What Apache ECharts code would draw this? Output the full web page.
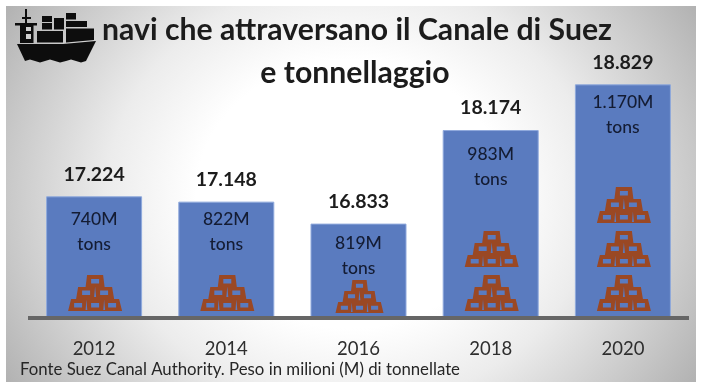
<!DOCTYPE html>
<html>
<head>
<meta charset="utf-8">
<style>html,body{margin:0;padding:0;background:#fff}#c{width:705px;height:390px}</style>
<script src="https://cdn.jsdelivr.net/npm/echarts@6/dist/echarts.min.js"></script>
</head>
<body>
<div id="c"></div>
<script>
const years = ['2012', '2014', '2016', '2018', '2020'];
const ships = [17224, 17148, 16833, 18174, 18829];
const tonnage = [740, 822, 819, 983, 1170];
const goldStacks = [1, 1, 1, 2, 3];
const titleLine1 = 'navi che attraversano il Canale di Suez';
const titleLine2 = 'e tonnellaggio';
const sourceNote = 'Fonte Suez Canal Authority. Peso in milioni (M) di tonnellate';

const FONT = 'Lato, "Open Sans", sans-serif';
const fmt = n => String(n).replace(/\B(?=(\d{3})+$)/g, '.');

const goldPath = 'M19 0H35L36.5 12H44L46 24H51L54 36H0L3 24H8L10 12H17.5Z' +
  'M23 4V8.5H31V4Z' +
  'M14 15.5V20H22V15.5Z M32 15.5V20H40V15.5Z' +
  'M6 28V32.5H14V28Z M23 28V32.5H31V28Z M40 28V32.5H48V28Z' +
  'M27 11.5L26 22H28Z M18.3 24.5L17.5 35H19.2Z M36 24.5L35.2 35H37Z';

const shipPolys = [
  [[17,44],[63,44],[96,41],[86,61],[81,62.5],[76,61],[71,59.5],[66,61],[60,62.5],[55,61],[50,59.5],[45,61],[40,62.5],[35,61],[30,59.5],[25,61]],
  [[25,9],[27,9],[27,17],[31,17],[31,19],[27,19],[27,23],[37,23],[37,25.5],[33.5,25.5],[33.5,43],[20,43],[20,25.5],[15,25.5],[15,23],[25,23],[25,19],[22,19],[22,17],[25,17]],
  [[37,31],[63,31],[63,42.5],[37,42.5]],
  [[42,16],[52,16],[52,22],[42,22]], [[42,23],[52,23],[52,29.5],[42,29.5]], [[54,18],[64,18],[64,29.5],[54,29.5]],
  [[66,13],[76,13],[76,19.5],[66,19.5]], [[66,21],[87,21],[87,27],[66,27]], [[66,28.5],[94,28.5],[94,40],[66,42.5]]
];
const shipWindows = [[[26,27],[31,27],[31,31],[26,31]], [[26,34],[31,34],[31,39],[26,39]]];

function renderGold(params, api) {
  const i = api.value(0), n = api.value(1);
  const small = i === 2;
  const w = small ? 48 : 54, h = small ? 33 : 36, lift = small ? 5 : 7;
  const children = [];
  for (let k = 0; k < n; k++) {
    const p = api.coord([i, k]);
    children.push({
      type: 'path',
      shape: {pathData: goldPath, layout: 'cover', x: p[0] - w / 2 + 1, y: p[1] - lift - h, width: w, height: h},
      style: {fill: '#9a4824'}
    });
  }
  return {type: 'group', children};
}

const chart = echarts.init(document.getElementById('c'), null, {renderer: 'canvas'});
chart.setOption({
  animation: false,
  backgroundColor: '#ffffff',
  graphic: [
    {
      type: 'rect', z: -10, silent: true, x: 6, y: 6, scaleX: 1.15, scaleY: 1,
      shape: {x: 0, y: 0, width: 600, height: 376},
      style: {
        fill: new echarts.graphic.RadialGradient(0.5, 0.5, 0.94, [
          {offset: 0, color: '#ffffff'},
          {offset: 0.38, color: '#ffffff'},
          {offset: 0.6, color: '#ececec'},
          {offset: 0.85, color: '#c8c8c8'},
          {offset: 1, color: '#b2b2b2'}
        ])
      }
    },
    ...shipPolys.map(p => ({type: 'polygon', z: 20, silent: true, shape: {points: p}, style: {fill: '#0d0d0d'}})),
    ...shipWindows.map(p => ({type: 'polygon', z: 21, silent: true, shape: {points: p}, style: {fill: '#cfcfcf'}})),
    {type: 'text', z: 20, x: 102, y: 30, style: {text: titleLine1, font: 'bold 30.2px ' + FONT, fill: '#1c1c1c', textVerticalAlign: 'middle'}},
    {type: 'text', z: 20, x: 355, y: 73, style: {text: titleLine2, font: 'bold 30.2px ' + FONT, fill: '#1c1c1c', textAlign: 'center', textVerticalAlign: 'middle'}},
    {type: 'text', z: 20, x: 20, y: 370, style: {text: sourceNote, font: '16.8px ' + FONT, fill: '#262626', textVerticalAlign: 'middle'}}
  ],
  grid: {left: 28, width: 661, top: 18, height: 300, containLabel: false},
  xAxis: {
    type: 'category', data: years,
    axisTick: {show: false},
    axisLine: {show: true, lineStyle: {color: '#666666', width: 4, cap: 'butt'}},
    axisLabel: {color: '#2e2e2e', fontFamily: FONT, fontSize: 18.5, margin: 22},
    z: 15
  },
  yAxis: [
    {type: 'value', min: 15480, max: 19780, show: false, splitLine: {show: false}},
    {type: 'value', min: 0, max: 300 / 44, show: false, splitLine: {show: false}}
  ],
  series: [
    {
      name: 'Navi', type: 'bar', data: ships, barWidth: 96, barGap: '-100%',
      itemStyle: {color: '#5a7bbf', borderColor: '#8fa9dc', borderWidth: 1},
      label: {show: true, position: 'top', distance: 12, formatter: p => fmt(p.value),
        color: '#1c1c1c', fontFamily: FONT, fontWeight: 'bold', fontSize: 19.5}
    },
    {
      name: 'Tonnellaggio', type: 'bar', barWidth: 96, barGap: '-100%',
      data: ships.map((v, i) => ({
        value: v,
        label: {distance: [11, 5, 7, 12, 6][i]}
      })),
      itemStyle: {color: 'transparent'},
      label: {show: true, position: 'insideTop',
        formatter: p => fmt(tonnage[p.dataIndex]) + 'M\ntons',
        color: '#141c33', fontFamily: FONT, fontWeight: 500, fontSize: 17.5, lineHeight: 25}
    },
    {
      name: 'Lingotti', type: 'custom', yAxisIndex: 1, z: 5,
      data: goldStacks.map((v, i) => [i, v]),
      encode: {x: 0, y: 1},
      renderItem: renderGold
    }
  ]
});
</script>
</body>
</html>
